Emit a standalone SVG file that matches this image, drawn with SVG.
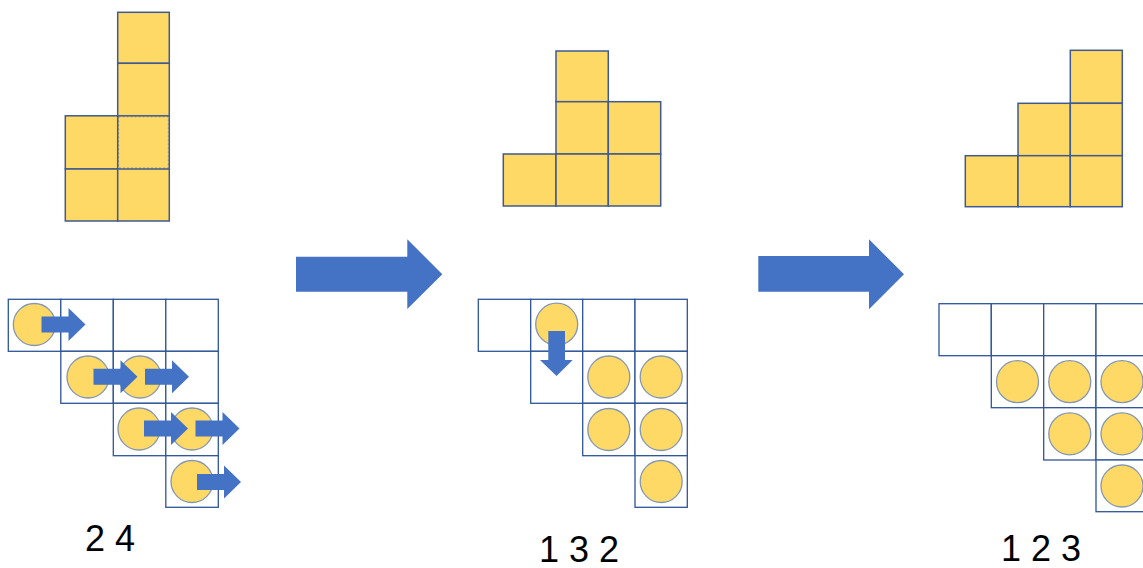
<svg xmlns="http://www.w3.org/2000/svg" xmlns:xlink="http://www.w3.org/1999/xlink" width="1143" height="568" viewBox="0 0 1143 568">
<style>
.blk{fill:#FFD966;stroke:#3F5A8F;stroke-width:1.5}
.cell{fill:#ffffff;stroke:#2F5597;stroke-width:1.3}
.dot{fill:#FFD966;stroke:#8497B0;stroke-width:1.3}
.arr{fill:#4472C4}
.lbl{font-family:"Liberation Sans",Arial,sans-serif;font-size:36px;fill:#000}
</style>
<defs>
<path id="sa" class="arr" d="M6,-8 H33 V-16.5 L50,0 L33,16.5 V8 H6 Z"/>
</defs>
<rect width="1143" height="568" fill="#ffffff"/>

<g id="stack1">
<rect x="117.7" y="115.8" width="51.6" height="53.2" fill="#FFD966"/>
<rect x="118.7" y="116.8" width="49.6" height="51.2" fill="none" stroke="#999999" stroke-width="1" stroke-dasharray="2 2"/>
<rect class="blk" x="117.7" y="12.3" width="51.6" height="51"/>
<rect class="blk" x="117.7" y="63.3" width="51.6" height="52.5"/>
<rect class="blk" x="65.3" y="115.8" width="52.4" height="53.2"/>
<rect class="blk" x="65.3" y="169" width="52.4" height="52"/>
<rect class="blk" x="117.7" y="169" width="51.6" height="52"/>
<line x1="169.3" y1="115.8" x2="169.3" y2="169" stroke="#3F5A8F" stroke-width="1.5"/>
</g>

<g id="stack2">
<rect class="blk" x="556" y="51" width="52.3" height="50.7"/>
<rect class="blk" x="556" y="101.7" width="52.3" height="52.3"/>
<rect class="blk" x="608.3" y="101.7" width="52.4" height="52.3"/>
<rect class="blk" x="503.3" y="154" width="52.7" height="52"/>
<rect class="blk" x="556" y="154" width="52.3" height="52"/>
<rect class="blk" x="608.3" y="154" width="52.4" height="52"/>
</g>

<g id="stack3">
<rect class="blk" x="1070.3" y="50.3" width="52" height="53"/>
<rect class="blk" x="1018" y="103.3" width="52.3" height="52.4"/>
<rect class="blk" x="1070.3" y="103.3" width="52" height="52.4"/>
<rect class="blk" x="965.3" y="155.7" width="52.7" height="51"/>
<rect class="blk" x="1018" y="155.7" width="52.3" height="51"/>
<rect class="blk" x="1070.3" y="155.7" width="52" height="51"/>
</g>

<g id="grid1">
<rect class="cell" x="8.3" y="299.3" width="52.5" height="52"/>
<rect class="cell" x="60.8" y="299.3" width="52.5" height="52"/>
<rect class="cell" x="113.3" y="299.3" width="52.5" height="52"/>
<rect class="cell" x="165.8" y="299.3" width="52.5" height="52"/>
<rect class="cell" x="60.8" y="351.3" width="52.5" height="52"/>
<rect class="cell" x="113.3" y="351.3" width="52.5" height="52"/>
<rect class="cell" x="165.8" y="351.3" width="52.5" height="52"/>
<rect class="cell" x="113.3" y="403.3" width="52.5" height="52.4"/>
<rect class="cell" x="165.8" y="403.3" width="52.5" height="52.4"/>
<rect class="cell" x="165.8" y="455.7" width="52.5" height="51.6"/>
<circle class="dot" cx="34.3" cy="324.5" r="21"/>
<circle class="dot" cx="88" cy="377" r="21"/>
<circle class="dot" cx="140" cy="377" r="21"/>
<circle class="dot" cx="139" cy="429" r="21"/>
<circle class="dot" cx="192" cy="429" r="21"/>
<circle class="dot" cx="192" cy="481.5" r="21"/>
<use xlink:href="#sa" href="#sa" x="35.5" y="324.5"/>
<use xlink:href="#sa" href="#sa" x="87.5" y="376.7"/>
<use xlink:href="#sa" href="#sa" x="139" y="376.7"/>
<use xlink:href="#sa" href="#sa" x="138" y="428.5"/>
<use xlink:href="#sa" href="#sa" x="189.5" y="428.5"/>
<use xlink:href="#sa" href="#sa" x="191" y="482"/>
</g>

<g id="grid2">
<rect class="cell" x="478.3" y="299.3" width="52.4" height="52"/>
<rect class="cell" x="530.7" y="299.3" width="52" height="52"/>
<rect class="cell" x="582.7" y="299.3" width="52.3" height="52"/>
<rect class="cell" x="635" y="299.3" width="52.3" height="52"/>
<rect class="cell" x="530.7" y="351.3" width="52" height="52"/>
<rect class="cell" x="582.7" y="351.3" width="52.3" height="52"/>
<rect class="cell" x="635" y="351.3" width="52.3" height="52"/>
<rect class="cell" x="582.7" y="403.3" width="52.3" height="52.4"/>
<rect class="cell" x="635" y="403.3" width="52.3" height="52.4"/>
<rect class="cell" x="635" y="455.7" width="52.3" height="51.6"/>
<circle class="dot" cx="556.7" cy="324.2" r="21"/>
<circle class="dot" cx="608.8" cy="377" r="21"/>
<circle class="dot" cx="661.2" cy="377" r="21"/>
<circle class="dot" cx="608.8" cy="429.5" r="21"/>
<circle class="dot" cx="661.2" cy="429.5" r="21"/>
<circle class="dot" cx="661.2" cy="481.5" r="21"/>
<path class="arr" d="M548.3,331 H565 V360 H572.7 L556.5,376 L540,360 H548.3 Z"/>
</g>

<g id="grid3">
<rect class="cell" x="939" y="303.7" width="52.3" height="52"/>
<rect class="cell" x="991.3" y="303.7" width="52.4" height="52"/>
<rect class="cell" x="1043.7" y="303.7" width="52.3" height="52"/>
<rect class="cell" x="1096" y="303.7" width="52.3" height="52"/>
<rect class="cell" x="991.3" y="355.7" width="52.4" height="52"/>
<rect class="cell" x="1043.7" y="355.7" width="52.3" height="52"/>
<rect class="cell" x="1096" y="355.7" width="52.3" height="52"/>
<rect class="cell" x="1043.7" y="407.7" width="52.3" height="52.3"/>
<rect class="cell" x="1096" y="407.7" width="52.3" height="52.3"/>
<rect class="cell" x="1096" y="460" width="52.3" height="51.7"/>
<circle class="dot" cx="1017.5" cy="381.7" r="21"/>
<circle class="dot" cx="1069.8" cy="381.7" r="21"/>
<circle class="dot" cx="1122" cy="381.7" r="21"/>
<circle class="dot" cx="1069.8" cy="433.8" r="21"/>
<circle class="dot" cx="1122" cy="433.8" r="21"/>
<circle class="dot" cx="1122" cy="486" r="21"/>
</g>

<g id="connectors">
<path class="arr" d="M296,256.7 H407.3 V239.3 L442.3,274.2 L407.3,309 V291.7 H296 Z"/>
<path class="arr" d="M758.3,256 H869 V239.3 L904,274.3 L869,309.3 V291.7 H758.3 Z"/>
</g>

<g id="labels">
<text class="lbl" x="85" y="551">2 4</text>
<text class="lbl" x="539" y="561.5">1 3 2</text>
<text class="lbl" x="1001" y="561">1 2 3</text>
</g>
</svg>
